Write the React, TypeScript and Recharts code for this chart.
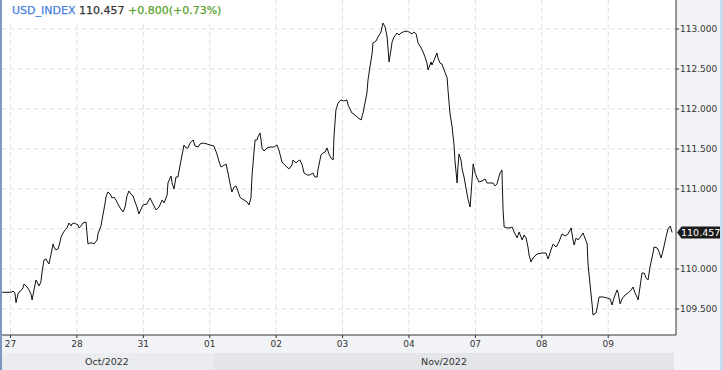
import React from 'react';
import { LineChart, Line, XAxis, YAxis, CartesianGrid, ReferenceLine } from 'recharts';

// time in hours from 27 Oct 00:00 (trading-session hours, weekends removed)
const hours = [
  -3.0, -0.2, 0.5, 0.9, 1.6, 2.0, 2.7, 3.1, 3.8, 4.5,
  4.9, 6.0, 6.7, 7.4, 7.8, 8.5, 9.2, 9.6, 10.3, 11.0,
  11.4, 12.1, 12.8, 13.2, 13.9, 14.6, 15.4, 15.7, 16.4, 17.2,
  17.9, 18.3, 19.0, 19.7, 20.4, 21.1, 21.9, 22.2, 23.0, 23.7,
  24.4, 24.8, 25.5, 26.2, 27.3, 27.6, 28.0, 28.7, 29.5, 30.2,
  31.3, 31.6, 32.7, 33.4, 34.2, 34.5, 35.2, 36.0, 36.7, 37.4,
  38.1, 39.2, 39.9, 40.7, 41.4, 42.1, 42.8, 43.5, 44.3, 45.0,
  45.7, 46.4, 47.2, 47.9, 49.3, 50.4, 51.5, 52.6, 53.7, 54.8,
  55.5, 56.6, 56.9, 58.0, 58.4, 59.1, 59.8, 60.5, 61.3, 62.0,
  62.7, 63.4, 64.1, 64.9, 66.0, 66.7, 67.8, 68.5, 69.6, 71.0,
  72.1, 73.5, 74.6, 75.4, 76.1, 76.8, 77.9, 78.6, 79.3, 80.0,
  80.8, 81.5, 82.2, 82.9, 83.7, 84.4, 85.5, 86.2, 86.9, 87.3,
  88.0, 88.4, 89.1, 89.4, 90.2, 90.9, 91.6, 92.7, 93.8, 95.2,
  96.3, 97.0, 98.1, 98.8, 99.2, 99.9, 100.6, 101.7, 102.1, 103.2,
  103.9, 104.6, 105.4, 106.1, 107.2, 108.2, 109.3, 110.0, 110.8, 111.1,
  112.2, 112.9, 113.7, 114.4, 115.1, 115.8, 116.6, 116.9, 117.6, 118.4,
  118.7, 119.4, 120.5, 121.6, 122.0, 123.4, 124.5, 125.6, 126.7, 127.4,
  128.1, 128.8, 129.2, 129.9, 130.7, 131.0, 132.1, 132.8, 133.9, 134.6,
  135.4, 136.1, 136.4, 136.8, 137.5, 137.9, 138.6, 139.7, 140.4, 141.1,
  141.9, 143.3, 144.0, 145.1, 145.8, 146.6, 147.3, 148.4, 149.1, 149.8,
  150.5, 150.9, 152.0, 152.3, 153.1, 154.1, 154.5, 155.2, 155.9, 156.7,
  157.8, 158.1, 158.8, 159.6, 159.9, 160.3, 160.6, 161.4, 161.7, 162.1,
  162.8, 163.2, 163.9, 164.6, 165.4, 165.7, 166.1, 166.8, 167.2, 167.9,
  168.6, 169.3, 170.4, 171.5, 172.2, 173.3, 174.4, 175.1, 175.8, 176.9,
  177.6, 178.0, 178.4, 179.4, 180.5, 181.3, 182.0, 183.1, 183.8, 184.5,
  184.9, 185.6, 186.3, 187.0, 187.4, 188.1, 188.8, 190.3, 192.1, 193.5,
  194.3, 195.3, 196.1, 197.2, 198.2, 199.3, 200.4, 201.5, 202.6, 203.3,
  203.7, 204.4, 205.1, 206.2, 206.9, 207.6, 208.4, 208.7, 209.5, 210.2,
  210.5, 211.6, 212.0, 212.7, 214.2, 215.6, 216.7, 217.4, 218.1, 219.2,
  219.6, 220.3, 221.0, 222.1, 223.2, 224.3, 225.0, 225.7, 226.4, 226.8,
  227.5, 228.2, 229.0, 229.7, 230.4, 231.1, 231.9, 232.6, 233.7, 234.4,
  235.1, 235.5, 236.2, 236.9, 237.6, 238.4, 239.1,
];

const prices = [
  109.709, 109.709, 109.713, 109.725, 109.700, 109.579, 109.688, 109.713, 109.729, 109.763,
  109.813, 109.775, 109.738, 109.688, 109.613, 109.738, 109.863, 109.838, 109.788, 109.838,
  109.963, 110.113, 110.125, 110.100, 110.063, 110.175, 110.313, 110.275, 110.238, 110.250,
  110.338, 110.400, 110.450, 110.488, 110.513, 110.575, 110.538, 110.563, 110.575, 110.563,
  110.550, 110.513, 110.538, 110.575, 110.588, 110.463, 110.313, 110.325, 110.325, 110.313,
  110.363, 110.438, 110.538, 110.675, 110.825, 110.900, 110.963, 110.938, 110.888, 110.900,
  110.863, 110.788, 110.750, 110.713, 110.775, 110.913, 110.975, 110.938, 110.913, 110.838,
  110.775, 110.688, 110.750, 110.800, 110.813, 110.888, 110.813, 110.738, 110.775, 110.863,
  110.825, 110.925, 111.075, 111.163, 111.075, 111.000, 111.150, 111.150, 111.300, 111.425,
  111.550, 111.513, 111.513, 111.575, 111.613, 111.538, 111.525, 111.563, 111.575, 111.563,
  111.550, 111.538, 111.438, 111.338, 111.275, 111.288, 111.313, 111.200, 111.075, 110.963,
  111.025, 111.038, 110.975, 110.900, 110.875, 110.863, 110.838, 110.800, 110.888, 111.175,
  111.463, 111.613, 111.613, 111.650, 111.700, 111.513, 111.475, 111.513, 111.525, 111.525,
  111.550, 111.488, 111.338, 111.313, 111.300, 111.275, 111.250, 111.300, 111.363, 111.325,
  111.350, 111.363, 111.300, 111.200, 111.175, 111.175, 111.200, 111.150, 111.150, 111.238,
  111.425, 111.450, 111.463, 111.513, 111.438, 111.388, 111.363, 111.650, 111.988, 112.075,
  112.088, 112.113, 112.100, 112.113, 112.050, 111.950, 111.925, 111.888, 111.863, 111.950,
  112.075, 112.200, 112.363, 112.525, 112.700, 112.825, 112.850, 112.900, 112.963, 113.075,
  113.025, 112.900, 112.775, 112.588, 112.738, 112.838, 112.900, 112.950, 112.925, 112.950,
  112.963, 112.975, 112.963, 112.938, 112.963, 112.938, 112.825, 112.763, 112.713, 112.650,
  112.575, 112.488, 112.588, 112.550, 112.613, 112.700, 112.638, 112.575, 112.563, 112.488,
  112.388, 112.238, 111.950, 111.775, 111.675, 111.550, 111.363, 111.075, 111.275, 111.438,
  111.363, 111.250, 111.150, 111.013, 110.863, 110.825, 110.775, 111.113, 111.313, 111.200,
  111.138, 111.088, 111.100, 111.125, 111.075, 111.075, 111.075, 111.038, 111.063, 111.200,
  111.238, 110.738, 110.525, 110.513, 110.513, 110.525, 110.463, 110.388, 110.463, 110.400,
  110.363, 110.425, 110.388, 110.275, 110.175, 110.088, 110.138, 110.188, 110.200, 110.200,
  110.125, 110.238, 110.313, 110.275, 110.338, 110.438, 110.413, 110.438, 110.513, 110.363,
  110.300, 110.388, 110.363, 110.413, 110.450, 110.388, 110.313, 110.063, 109.788, 109.550,
  109.425, 109.450, 109.513, 109.650, 109.650, 109.638, 109.625, 109.550, 109.638, 109.738,
  109.700, 109.563, 109.625, 109.675, 109.700, 109.738, 109.775, 109.700, 109.650, 109.613,
  109.775, 109.950, 109.950, 109.888, 109.863, 110.025, 110.150, 110.275, 110.263, 110.213,
  110.138, 110.188, 110.288, 110.400, 110.500, 110.538, 110.457,
];

const dayLabels = ['27', '28', '31', '01', '02', '03', '04', '07', '08', '09'];
const dayTicks = [0, 24, 48, 72, 96, 120, 144, 168, 192, 216];
const gridPrices = [109.5, 110, 110.5, 111, 111.5, 112, 112.5, 113];
// 110.500 label is hidden behind the last-price tag in the original
const labelPrices = [109.5, 110, 111, 111.5, 112, 112.5, 113];
const monthLabels = ['Oct/2022', 'Nov/2022'];
const symbolName = 'USD_INDEX';
const lastPrice = 110.457;
const priceChange = 0.8;
const priceChangePct = 0.73;

const data = hours.map((h, i) => ({ h, p: prices[i] }));

const FONT = '"DejaVu Sans", sans-serif';

const PriceTag = (props: any) => {
  const vb = props.viewBox || {};
  const x = vb.x + vb.width;
  const y = vb.y;
  return (
    <g>
      <path
        d={`M${x + 1},${y} L${x + 5.5},${y - 6} L${x + 44},${y - 6} L${x + 44},${y + 6} L${x + 5.5},${y + 6} Z`}
        fill="#1c1c1c"
      />
      <text x={x + 5} y={y + 3.5} fill="#ffffff" fontSize={9.5} fontFamily={FONT}>
        {lastPrice.toFixed(3)}
      </text>
    </g>
  );
};

export default function App() {
  return (
    <div
      style={{
        position: 'absolute',
        left: 0,
        top: 0,
        width: 723,
        height: 370,
        background: '#f2f3f6',
        overflow: 'hidden',
        fontFamily: FONT,
      }}
    >
      {/* month band */}
      <div
        style={{
          position: 'absolute', left: 0, top: 353, width: 214, height: 17,
          background: '#eaecef', color: '#333', fontSize: 9.5, lineHeight: '17px', textAlign: 'center',
        }}
      >
        {monthLabels[0]}
      </div>
      <div
        style={{
          position: 'absolute', left: 214, top: 353, width: 460, height: 17,
          background: '#e3e5e9', color: '#333', fontSize: 9.5, lineHeight: '17px', textAlign: 'center',
        }}
      >
        {monthLabels[1]}
      </div>
      <div style={{ position: 'absolute', left: 720, top: 0, width: 3, height: 370, background: '#c9dcf1' }} />

      <div style={{ position: 'absolute', left: 0, top: 0 }}>
        <LineChart
          width={723}
          height={370}
          data={data}
          margin={{ top: 0, right: 3, bottom: 17, left: 2 }}
        >
          <CartesianGrid
            stroke="#e0e0e0"
            strokeDasharray="5 3"
            fill="#ffffff"
            verticalValues={dayTicks}
            horizontalValues={gridPrices}
          />
          <XAxis
            type="number"
            dataKey="h"
            domain={[-3.07, 240.5]}
            allowDataOverflow
            ticks={dayTicks}
            tickFormatter={(v: number) => dayLabels[dayTicks.indexOf(v)] ?? ''}
            height={18}
            tickSize={3}
            tickMargin={3}
            stroke="#333"
            tick={{ fill: '#333', fontSize: 9, fontFamily: FONT }}
            interval={0}
          />
          <YAxis
            orientation="right"
            type="number"
            domain={[109.175, 113.3625]}
            allowDataOverflow
            ticks={labelPrices}
            tickFormatter={(v: number) => v.toFixed(3)}
            width={44}
            tickSize={3}
            tickMargin={1}
            stroke="#333"
            tick={{ fill: '#333', fontSize: 9, fontFamily: FONT, textAnchor: 'start' }}
            interval={0}
          />
          <ReferenceLine y={lastPrice} stroke="none" label={<PriceTag />} />
          <Line
            type="linear"
            dataKey="p"
            stroke="#111"
            strokeWidth={1}
            dot={false}
            isAnimationActive={false}
          />
        </LineChart>
      </div>

      <div style={{ position: 'absolute', left: 0, top: 0, width: 2, height: 370, background: '#7d98c0' }} />

      <div
        style={{
          position: 'absolute', left: 2, top: 0, height: 21, paddingLeft: 10, paddingRight: 6,
          background: '#ffffff', fontSize: 11, lineHeight: '22px', whiteSpace: 'nowrap',
          WebkitTextStroke: '0.25px',
        }}
      >
        <span style={{ color: '#4a7fdd' }}>{symbolName}</span>{' '}
        <span style={{ color: '#333333' }}>{lastPrice.toFixed(3)}</span>{' '}
        <span style={{ color: '#5a9f2c' }}>
          {`+${priceChange.toFixed(3)}(+${priceChangePct.toFixed(2)}%)`}
        </span>
      </div>
    </div>
  );
}
